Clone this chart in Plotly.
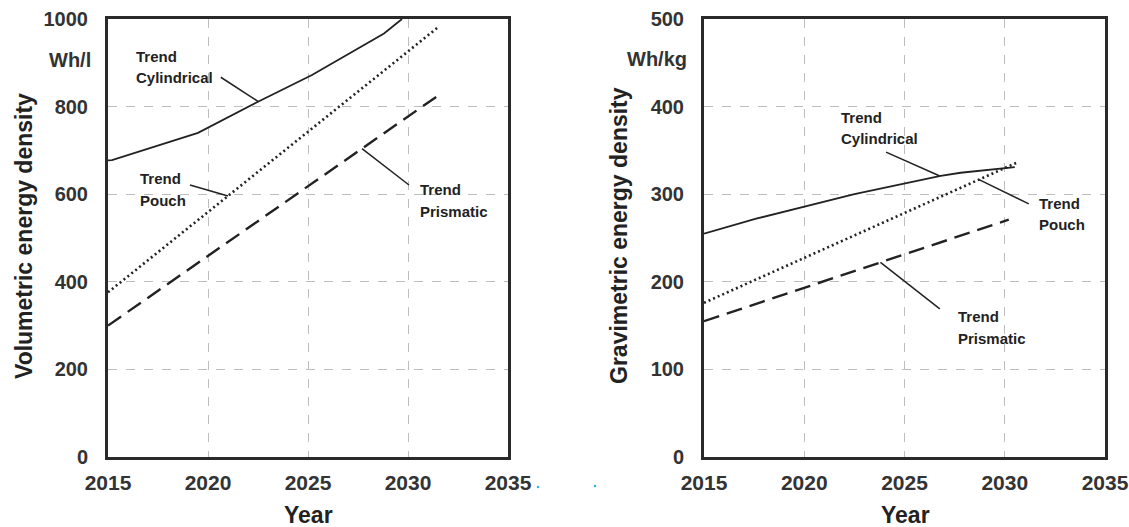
import numpy as np
import plotly.graph_objects as go

W, H = 1129, 527

# ---------------- data ----------------
years_vol_cyl = [2015, 2015.2, 2019.5, 2022.5, 2025.2, 2028.8, 2029.7]
vol_cyl = [677, 678, 740, 811, 872, 967, 1000]
years_vol_pouch = [2015, 2031.5]
vol_pouch = [376, 981]
years_vol_prism = [2015, 2031.5]
vol_prism = [300, 825]

years_grav_cyl = [2015, 2017.6, 2022.5, 2026.8, 2027.8, 2030.5]
grav_cyl = [255, 272, 300, 321, 324.5, 331]
years_grav_pouch = [2015, 2030.6]
grav_pouch = [176, 336]
years_grav_prism = [2015, 2030.2]
grav_prism = [155, 271]

x_ticks = [2015, 2020, 2025, 2030, 2035]
vol_ticks = [0, 200, 400, 600, 800, 1000]
grav_ticks = [0, 100, 200, 300, 400, 500]

# ---------------- helpers ----------------
def px(x):
    return x / W

def py(y):
    return (H - y) / H

INK = "#222222"
TICK = "#333333"
FONT = "Liberation Sans"

fig = go.Figure()

def add_line(xs, ys, dash, width, xa, ya):
    fig.add_trace(go.Scatter(x=xs, y=ys, mode="lines", xaxis=xa, yaxis=ya,
                             line=dict(color=INK, width=width, dash=dash),
                             showlegend=False, hoverinfo="skip"))

add_line(years_vol_cyl, vol_cyl, "solid", 1.8, "x", "y")
add_line(years_vol_pouch, vol_pouch, "2px,3px", 2.6, "x", "y")
add_line(years_vol_prism, vol_prism, "16px,8px", 2.4, "x", "y")
add_line(years_grav_cyl, grav_cyl, "solid", 1.8, "x2", "y2")
add_line(years_grav_pouch, grav_pouch, "2px,3px", 2.6, "x2", "y2")
add_line(years_grav_prism, grav_prism, "16px,8px", 2.4, "x2", "y2")

ydom = [py(457), py(19)]
axis_common = dict(showline=True, linewidth=3, linecolor="#2a2a2a", mirror=True,
                   showgrid=True, gridcolor="#bdbdbd", gridwidth=1, griddash="dash",
                   zeroline=False, ticks="", automargin=False)
ytick = dict(ticklabelstandoff=13, tickfont=dict(family=FONT, size=20, color=TICK, weight="bold"))
xtick = dict(ticklabelstandoff=5, tickfont=dict(family=FONT, size=21, color=TICK, weight="bold"))

fig.update_layout(
    template="none",
    width=W, height=H, margin=dict(l=0, r=0, t=0, b=0, pad=0),
    paper_bgcolor="white", plot_bgcolor="white",
    xaxis=dict(axis_common, **xtick, domain=[px(108), px(508)], range=[2015, 2035],
               tickvals=x_ticks, anchor="y"),
    yaxis=dict(axis_common, **ytick, domain=ydom, range=[0, 1000], tickvals=vol_ticks, anchor="x"),
    xaxis2=dict(axis_common, **xtick, domain=[px(704), px(1105)], range=[2015, 2035],
                tickvals=x_ticks, anchor="y2"),
    yaxis2=dict(axis_common, **ytick, domain=ydom, range=[0, 500], tickvals=grav_ticks, anchor="x2"),
)

annos = []

def text(x, y, s, size=15, anchor="left", color=INK, angle=0):
    annos.append(dict(x=px(x), y=py(y), xref="paper", yref="paper", text=s,
                      showarrow=False, xanchor=anchor, yanchor="middle",
                      textangle=angle,
                      font=dict(family=FONT, size=size, color=color, weight="bold")))

# series labels (two lines each)
labels = [
    (134, 56.5, 77.5, "Cylindrical"),
    (138, 178, 200, "Pouch"),
    (418, 190, 212, "Prismatic"),
    (839, 117, 138, "Cylindrical"),
    (1037, 203, 224, "Pouch"),
    (956, 316.5, 338, "Prismatic"),
]
for x, y1, y2, name in labels:
    text(x, y1, "Trend")
    text(x, y2, name)

# units
text(93, 60, "Wh/l", size=20, anchor="right", color=TICK)
text(689, 59, "Wh/kg", size=20, anchor="right", color=TICK)

# axis titles
text(24, 236, "Volumetric energy density", size=23, anchor="center", color=INK, angle=-90)
text(619, 236, "Gravimetric energy density", size=23, anchor="center", color=INK, angle=-90)
text(308, 515, "Year", size=23, anchor="center", color=INK)
text(905, 515, "Year", size=23, anchor="center", color=INK)

fig.update_layout(annotations=annos)

# leader lines (one end on the series)
shapes = []

def leader(xa, ya, x0, y0, x1, y1):
    shapes.append(dict(type="line", xref=xa, yref=ya, x0=x0, y0=y0, x1=x1, y1=y1,
                       line=dict(color=INK, width=1.5)))

leader("x", "y", 2020.64, 867, 2022.52, float(np.interp(2022.52, years_vol_cyl, vol_cyl)))
leader("x", "y", 2019.1, 621, 2021.0, float(np.interp(2021.0, years_vol_pouch, vol_pouch)))
leader("x", "y", 2027.7, float(np.interp(2027.7, years_vol_prism, vol_prism)), 2030.05, 621)
leader("x2", "y2", 2024.08, 348, 2026.76, float(np.interp(2026.76, years_grav_cyl, grav_cyl)))
leader("x2", "y2", 2028.72, float(np.interp(2028.72, years_grav_pouch, grav_pouch)), 2031.2, 289)
leader("x2", "y2", 2023.8, float(np.interp(2023.8, years_grav_prism, grav_prism)), 2026.76, 169)

# small blue specks seen in the picture
for cx, cy in [(538, 487), (595, 486)]:
    shapes.append(dict(type="circle", xref="paper", yref="paper",
                       x0=px(cx - 1.3), x1=px(cx + 1.3), y0=py(cy + 1.3), y1=py(cy - 1.3),
                       fillcolor="#3ab0e8", line=dict(width=0)))

fig.update_layout(shapes=shapes)

fig.write_html("out.html")
